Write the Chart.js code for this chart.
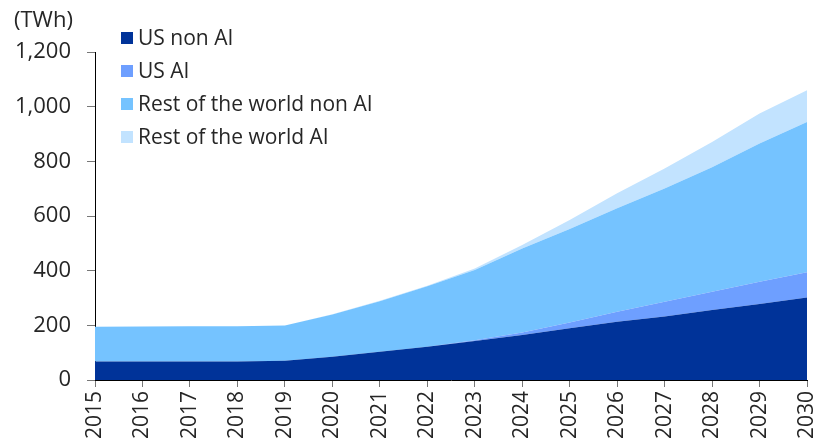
<!DOCTYPE html>
<html>
<head>
<meta charset="utf-8">
<script src="https://cdn.jsdelivr.net/npm/chart.js@4"></script>
<style>
  html, body { margin: 0; padding: 0; background: #fff; }
  #wrap { position: relative; width: 817px; height: 448px; font-family: "Open Sans", sans-serif; color: #262626; }
  #unit { position: absolute; left: 14px; top: 3px; font-size: 22px; }
  #legend { position: absolute; left: 121px; top: 22px; font-size: 21px; }
  .item { height: 33px; line-height: 30px; white-space: nowrap; }
  .sw { display: inline-block; width: 12px; height: 12px; margin-right: 5px; vertical-align: 1px; }
</style>
</head>
<body>
<div id="wrap">
  <canvas id="chart" width="817" height="448"></canvas>
  <div id="unit">(TWh)</div>
  <div id="legend"></div>
</div>
<script>
// Data
const years = ['2015', '2016', '2017', '2018', '2019', '2020', '2021', '2022',
               '2023', '2024', '2025', '2026', '2027', '2028', '2029', '2030'];
const usNonAI = [68, 68, 68, 68, 70, 85, 103, 122, 143, 165, 189, 213, 232, 256, 278, 302];
const usAI = [0, 0, 0, 0, 0, 0, 0, 0, 2, 9, 21, 37, 54, 67, 81, 92];
const rowNonAI = [127, 128, 129, 129, 129, 155, 185, 221, 257, 307, 342, 378, 415, 455, 506, 550];
const rowAI = [0, 0, 0, 0, 0, 1, 2, 2, 6, 13, 33, 55, 73, 93, 110, 116];
const seriesNames = ['US non AI', 'US AI', 'Rest of the world non AI', 'Rest of the world AI'];
const seriesColors = ['#003399', '#6e9fff', '#75c3ff', '#c2e3ff'];

const seriesData = [usNonAI, usAI, rowNonAI, rowAI];

const datasets = seriesData.map((d, i) => ({
    label: seriesNames[i],
    data: d,
    backgroundColor: seriesColors[i],
    borderColor: seriesColors[i],
    borderWidth: 0,
    pointRadius: 0,
    fill: i === 0 ? 'origin' : '-1',
    tension: 0
}));

// HTML legend
const legend = document.getElementById('legend');
seriesNames.forEach((name, i) => {
    const div = document.createElement('div');
    div.className = 'item';
    div.innerHTML = '<span class="sw" style="background:' + seriesColors[i] + '"></span>' + name;
    legend.appendChild(div);
});

const tickFont = { family: '"Open Sans", sans-serif', size: 21 };

new Chart(document.getElementById('chart').getContext('2d'), {
    type: 'line',
    data: { labels: years, datasets: datasets },
    options: {
        responsive: false,
        animation: false,
        layout: { padding: { top: 52, right: 10, left: 0, bottom: 0 } },
        plugins: { legend: { display: false }, tooltip: { enabled: false } },
        scales: {
            x: {
                offset: false,
                grid: { drawOnChartArea: false, tickLength: 7, color: '#777' },
                border: { color: '#000', width: 1 },
                ticks: { color: '#262626', font: tickFont, minRotation: 90, maxRotation: 90, padding: 4, autoSkip: false },
                afterFit: s => {
                    s.height = 68;
                    s.paddingLeft = 0;
                    s.paddingRight = 0;
                }
            },
            y: {
                stacked: true,
                min: 0,
                max: 1200,
                grid: { drawOnChartArea: false, tickLength: 8, color: '#777' },
                border: { color: '#000', width: 1 },
                ticks: {
                    stepSize: 200,
                    color: '#262626',
                    font: { family: '"Open Sans", sans-serif', size: 22 },
                    padding: 16,
                    callback: v => v.toLocaleString('en-US')
                },
                afterFit: s => { s.width = 95; }
            }
        }
    }
});
</script>
</body>
</html>
